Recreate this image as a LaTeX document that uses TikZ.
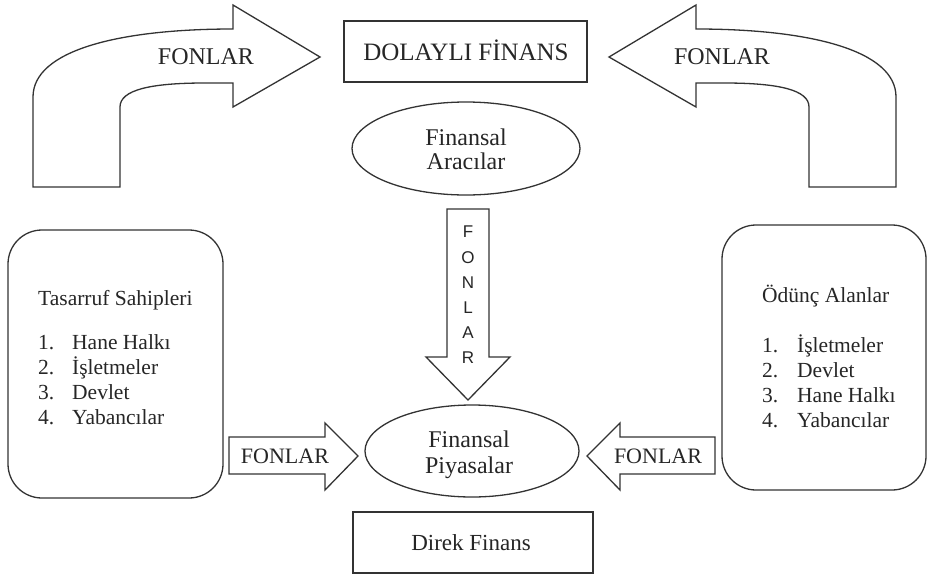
\documentclass[tikz,border=0pt]{standalone}
\usepackage{fontspec}
\setmainfont{Liberation Serif}
\setsansfont{Liberation Sans}
\usetikzlibrary{shapes.geometric}
\begin{document}
\begin{tikzpicture}[x=1pt,y=-1pt,
  every node/.style={text=black!85},
  blockarrow/.style={draw=black!80, line width=1.3pt, fill=white, line join=miter},
  box/.style={draw=black!80, line width=1.3pt, rectangle, inner sep=0pt},
  rbox/.style={draw=black!80, line width=1.3pt, rectangle, rounded corners=34pt, inner sep=0pt},
  oval/.style={draw=black!80, line width=1.3pt, ellipse, inner sep=0pt},
  txt/.style={inner sep=0pt, font=\fontsize{21.5}{25}\selectfont},
  big/.style={inner sep=0pt, font=\fontsize{24}{24}\selectfont},
  vert/.style={inner sep=0pt, align=center, font=\sffamily\fontsize{17}{25.2}\selectfont},
]
\fill[white] (0,0) rectangle (928,581);
\useasboundingbox (0,0) rectangle (928,581);

% bent arrows at the top
\draw[blockarrow] (33,187) -- (33,97) .. controls (33,50) and (120,29) .. (233,29)
  -- (233,5) -- (320,57) -- (233,107) -- (233,83) -- (205,83)
  .. controls (150,83) and (120,90) .. (120,107) -- (120,187) -- cycle;
\draw[blockarrow] (896,187) -- (896,97) .. controls (896,50) and (809,29) .. (696,29)
  -- (696,5) -- (609,57) -- (696,107) -- (696,83) -- (724,83)
  .. controls (779,83) and (809,90) .. (809,107) -- (809,187) -- cycle;
\node[big, anchor=base] (fonTL) at (206,64) {FONLAR};
\node[big, anchor=base] (fonTR) at (722,64) {FONLAR};

% top box
\node[box, minimum width=243pt, minimum height=61pt] (dolayli) at (465.5,51.5) {};
\node[big, anchor=base, font=\fontsize{25}{25}\selectfont] (dolayliT) at (466,60) {DOLAYLI FİNANS};

% Finansal Aracilar
\node[oval, minimum width=228pt, minimum height=93pt] (fa) at (466,148.5) {};
\node[big, anchor=base] (fa1) at (466,145) {Finansal};
\node[big, anchor=base] (fa2) at (466,169) {Aracılar};

% vertical arrow
\draw[blockarrow] (447,209) -- (489,209) -- (489,357) -- (510,357) -- (468,400)
  -- (426,357) -- (447,357) -- cycle;
\node[vert, anchor=north] (fonV) at (468,226) {F\\O\\N\\L\\A\\R};

% Finansal Piyasalar
\node[oval, minimum width=214pt, minimum height=92pt] (fp) at (472,451) {};
\node[big, anchor=base] (fp1) at (469,447) {Finansal};
\node[big, anchor=base] (fp2) at (469,473) {Piyasalar};

% side arrows
\draw[blockarrow] (229,437) -- (325,437) -- (325,423) -- (358,456) -- (325,490)
  -- (325,474) -- (229,474) -- cycle;
\draw[blockarrow] (715,437) -- (620,437) -- (620,423) -- (587,456) -- (620,490)
  -- (620,474) -- (715,474) -- cycle;
\node[big, anchor=base, font=\fontsize{22}{22}\selectfont] (fonL) at (285,463) {FONLAR};
\node[big, anchor=base, font=\fontsize{22}{22}\selectfont] (fonR) at (658,463) {FONLAR};

% Direk Finans
\node[box, minimum width=240pt, minimum height=61pt] (direk) at (473,542.5) {};
\node[big, anchor=base, font=\fontsize{23}{23}\selectfont] (direkT) at (471,550) {Direk Finans};

% left rounded box
\node[rbox, minimum width=215pt, minimum height=268pt] (tas) at (115.5,364) {};
\node[txt, anchor=base west] (tasH) at (38,305) {Tasarruf Sahipleri};
\node[txt, anchor=base west] (tasN1) at (38,349) {1.};
\node[txt, anchor=base west] (tasN2) at (38,374) {2.};
\node[txt, anchor=base west] (tasN3) at (38,399) {3.};
\node[txt, anchor=base west] (tasN4) at (38,424) {4.};
\node[txt, anchor=base west] (tasI1) at (72,349) {Hane Halkı};
\node[txt, anchor=base west] (tasI2) at (72,374) {İşletmeler};
\node[txt, anchor=base west] (tasI3) at (72,399) {Devlet};
\node[txt, anchor=base west] (tasI4) at (72,424) {Yabancılar};

% right rounded box
\node[rbox, minimum width=204pt, minimum height=265pt] (odu) at (824,357.5) {};
\node[txt, anchor=base west] (oduH) at (762,302) {Ödünç Alanlar};
\node[txt, anchor=base west] (oduN1) at (762,352) {1.};
\node[txt, anchor=base west] (oduN2) at (762,377) {2.};
\node[txt, anchor=base west] (oduN3) at (762,402) {3.};
\node[txt, anchor=base west] (oduN4) at (762,427) {4.};
\node[txt, anchor=base west] (oduI1) at (797,352) {İşletmeler};
\node[txt, anchor=base west] (oduI2) at (797,377) {Devlet};
\node[txt, anchor=base west] (oduI3) at (797,402) {Hane Halkı};
\node[txt, anchor=base west] (oduI4) at (797,427) {Yabancılar};
\end{tikzpicture}
\end{document}
